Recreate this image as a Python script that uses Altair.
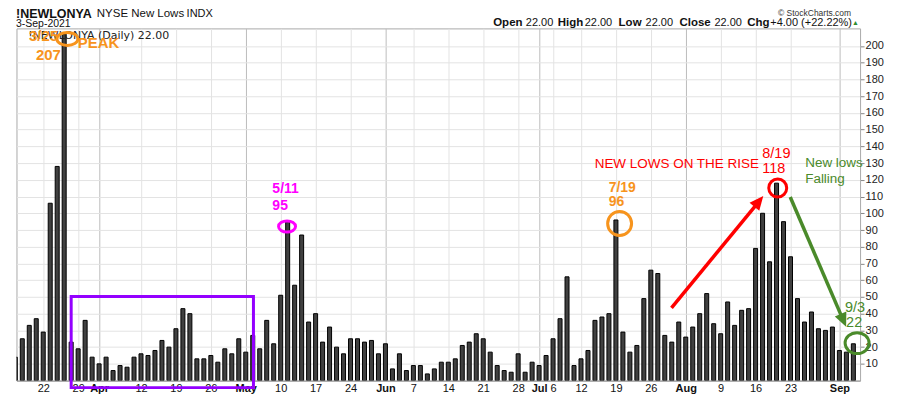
import altair as alt
import pandas as pd

# ---- data (NYSE new lows, daily, 16-Mar-2021 .. 3-Sep-2021, trading days) ----
new_lows = [14, 25, 33, 37, 29, 106, 128, 207, 23, 19,
            36, 14, 10, 14, 6, 9, 8, 14, 16, 15,
            18, 24, 20, 31, 43, 40, 13, 13, 15, 11,
            19, 16, 25, 17, 27, 19, 36, 22, 51, 95,
            57, 87, 35, 40, 23, 32, 20, 16, 25, 25,
            23, 24, 16, 22, 7, 16, 6, 9, 9, 4,
            7, 11, 11, 13, 21, 23, 28, 25, 17, 9,
            6, 5, 16, 5, 11, 9, 15, 25, 37, 62,
            9, 13, 18, 36, 38, 40, 96, 29, 17, 21,
            49, 66, 64, 27, 23, 35, 26, 32, 40, 52,
            34, 28, 47, 33, 42, 43, 79, 100, 71, 118,
            95, 74, 49, 35, 41, 31, 30, 32, 18, 17,
            22]
day_index = list(range(len(new_lows)))

tick_pos = [4, 9, 12, 18, 23, 28, 33, 38, 43, 48, 53, 57, 62, 67, 72,
            75, 77, 81, 86, 91, 96, 101, 106, 111, 118]
tick_text = ["22", "29", "Apr", "12", "19", "26", "May", "10", "17", "24",
             "Jun", "7", "14", "21", "28", "Jul", "6", "12", "19", "26",
             "Aug", "9", "16", "23", "Sep"]
month_pos = [12, 33, 53, 75, 96, 118]
y_ticks = list(range(10, 201, 10))

df = pd.DataFrame({"day": day_index, "lows": new_lows})

W, H = 845.5, 353
FONT = "Liberation Sans"
ORANGE = "#f7941d"
MAGENTA = "#ff00ff"
RED = "#ff0000"
GREEN = "#4a8a2a"
PURPLE = "#9400ff"

pos_js = "[" + ",".join(str(p) for p in tick_pos) + "]"
txt_js = "[" + ",".join("'" + t + "'" for t in tick_text) + "]"
mon_js = "[" + ",".join(str(p) for p in month_pos) + "]"
is_month = f"indexof({mon_js}, datum.value) >= 0"

x_scale = alt.Scale(domain=[0.17, 120.96], nice=False, zero=False, padding=0)
y_scale = alt.Scale(domain=[0, 210.5], nice=False, zero=False, padding=0)

x_axis = alt.Axis(
    values=tick_pos, tickCount=500,
    labelExpr=f"{txt_js}[indexof({pos_js}, datum.value)]",
    labelOverlap=False, labelFlush=False, labelBound=False,
    labelFontSize=11, labelFont=FONT, labelColor="#111",
    labelFontWeight={"condition": {"test": is_month, "value": "bold"}, "value": "normal"},
    labelPadding=2, ticks=False, domain=True, domainColor="#999",
    grid=True,
    gridColor={"condition": {"test": is_month, "value": "#bdbdbd"}, "value": "#e3e3e3"},
    title=None,
)
y_axis = alt.Axis(
    orient="right", values=y_ticks, tickCount=500, labelOverlap=False, format="d",
    grid=True, gridColor="#e3e3e3",
    tickSize=4, tickColor="#888", labelPadding=1, labelFontSize=11,
    labelFont=FONT, labelColor="#222", domain=False, title=None,
)

bars = alt.Chart(df).mark_bar(
    size=4, fill="#404040", stroke="#000", strokeWidth=1, clip=True
).encode(
    x=alt.X("day:Q", scale=x_scale, axis=x_axis),
    y=alt.Y("lows:Q", scale=y_scale, axis=y_axis),
)

one = alt.Data(values=[{}])


def note(text, idx, val, color, size, weight="bold", align="left"):
    return alt.Chart(one).mark_text(
        text=text, color=color, fontSize=size, fontWeight=weight, align=align,
        baseline="middle", font=FONT,
    ).encode(x=alt.datum(idx), y=alt.datum(val))


def hdr(text, px, py, size, weight="normal", color="#111", align="left", font=FONT):
    return alt.Chart(one).mark_text(
        text=text, color=color, fontSize=size, fontWeight=weight, align=align,
        baseline="middle", font=font,
    ).encode(x=alt.value(px), y=alt.value(py))


def ellipse(idx, val, rx, ratio, color, sw=3):
    path = f"M-1,0A1,{ratio} 0 1,1 1,0A1,{ratio} 0 1,1 -1,0Z"
    return alt.Chart(one).mark_point(
        shape=path, size=4 * rx * rx, filled=False, stroke=color,
        strokeWidth=sw, opacity=1,
    ).encode(x=alt.datum(idx), y=alt.datum(val))


def arrow(x0, y0, x1, y1, tx, ty, angle, color):
    line = alt.Chart(one).mark_rule(color=color, strokeWidth=3.5).encode(
        x=alt.datum(x0), y=alt.datum(y0), x2=alt.datum(x1), y2=alt.datum(y1))
    head = alt.Chart(one).mark_point(
        shape="M0,0L0.9,2L-0.9,2Z", size=196, filled=True, color=color,
        opacity=1, angle=angle, strokeWidth=0,
    ).encode(x=alt.datum(tx), y=alt.datum(ty))
    return [line, head]


box = alt.Chart(one).mark_rect(
    fillOpacity=0, stroke=PURPLE, strokeWidth=3, clip=False
).encode(x=alt.datum(8.0), x2=alt.datum(34.1), y=alt.datum(50.3), y2=alt.datum(-4.2))

layers = [bars, box]
layers += [
    hdr("!NEWLONYA", -0.5, -14.5, 12.5, "bold"),
    hdr("NYSE New Lows", 80.5, -14.3, 11.5),
    hdr("INDX", 170.5, -14.3, 11),
    hdr("3-Sep-2021", -0.5, -4.3, 10.5),
    hdr("\u00a9 StockCharts.com", 836.5, -15.5, 8.5, color="#333", align="right"),
    hdr("Open", 477.8, -5.3, 11.5, "bold"),
    hdr("22.00", 510.5, -5.3, 11),
    hdr("High", 542.5, -5.3, 11.5, "bold"),
    hdr("22.00", 569.5, -5.3, 11),
    hdr("Low", 603.5, -5.3, 11.5, "bold"),
    hdr("22.00", 630.5, -5.3, 11),
    hdr("Close", 664.5, -5.3, 11.5, "bold"),
    hdr("22.00", 699.5, -5.3, 11),
    hdr("Chg", 732.5, -5.3, 11.5, "bold"),
    hdr("+4.00 (+22.22%)", 755.5, -5.3, 11),
    hdr("\u25b2", 837.5, -5.8, 7, color="#2e8b2e"),
    hdr("!NEWLONYA (Daily) 22.00", 11.8, 7.3, 11, font="DejaVu Sans", color="#222"),
]
# annotations
layers += [
    note("3/25", 1.96, 205.7, ORANGE, 15),
    note("207", 2.96, 194.4, ORANGE, 15),
    note("PEAK", 8.96, 201.5, ORANGE, 15),
    ellipse(7.46, 204.2, 10.5, 0.62, ORANGE),
    note("5/11", 36.81, 114.5, MAGENTA, 14),
    note("95", 36.81, 104.4, MAGENTA, 14),
    ellipse(38.91, 92.1, 8.5, 0.65, MAGENTA),
    note("7/19", 84.96, 115.4, ORANGE, 14),
    note("96", 84.96, 106.7, ORANGE, 14),
    ellipse(86.53, 93.9, 12, 1.0, ORANGE),
    note("NEW LOWS ON THE RISE", 82.96, 129.7, RED, 13.5, "normal"),
    note("8/19", 106.96, 135.7, RED, 14.5, "normal"),
    note("118", 106.96, 126.4, RED, 14.5, "normal"),
    ellipse(109.17, 115.1, 9, 1.0, RED),
    note("New lows", 113.1, 130.0, GREEN, 13.5, "normal"),
    note("Falling", 113.1, 120.7, GREEN, 13.5, "normal"),
    note("9/3", 118.81, 43.2, GREEN, 14.5, "normal"),
    note("22", 118.96, 34.6, GREEN, 14.5, "normal"),
    ellipse(120.53, 22.4, 12, 0.875, GREEN),
]
layers += arrow(93.96, 43.5, 106.0, 104.6, 107.1, 110.3, 39.4, RED)
layers += arrow(110.96, 109.7, 118.27, 38.8, 118.96, 32.2, 156.7, GREEN)

chart = alt.layer(*layers).properties(
    width=W, height=H,
    padding={"left": 8.5, "top": 20, "right": 32, "bottom": 15},
    autosize=alt.AutoSizeParams(type="none"),
).configure_view(stroke="#aaa", strokeWidth=1)

chart.save("out.html", embed_options={"renderer": "svg", "actions": False})
